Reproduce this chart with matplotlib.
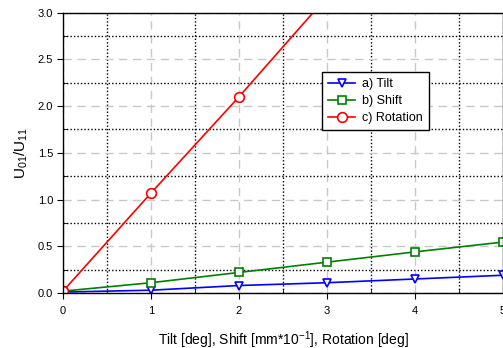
import matplotlib
matplotlib.use("Agg")
import matplotlib.pyplot as plt
from matplotlib.ticker import MultipleLocator, FormatStrFormatter

plt.rcParams['font.family'] = ['Liberation Sans', 'DejaVu Sans']
plt.rcParams['mathtext.default'] = 'regular'

x = [0, 1, 2, 3, 4, 5]
tilt = [0.01, 0.03, 0.08, 0.11, 0.15, 0.19]
shift = [0.02, 0.11, 0.22, 0.33, 0.44, 0.545]
rotation = [0.02, 1.07, 2.10, 3.17, 4.22, 5.27]
labels = ["a) Tilt", "b) Shift", "c) Rotation"]

fig = plt.figure(figsize=(5.03, 3.48), dpi=100)
ax = fig.add_axes([63/503, 55/348, 1 - 63/503, (293-12.7)/348])

ax.plot(x, tilt, color='blue', marker='v', ms=6, mfc='white', mec='blue', mew=1.2, lw=1.2, label=labels[0])
ax.plot(x, shift, color='green', marker='s', ms=5.5, mfc='white', mec='green', mew=1.2, lw=1.2, label=labels[1])
ax.plot(x, rotation, color='red', marker='o', ms=7, mfc='white', mec='red', mew=1.2, lw=1.2, label=labels[2])

ax.set_xlim(0, 5)
ax.set_ylim(0, 3.0)
ax.xaxis.set_major_locator(MultipleLocator(1))
ax.xaxis.set_minor_locator(MultipleLocator(0.5))
ax.yaxis.set_major_locator(MultipleLocator(0.5))
ax.yaxis.set_minor_locator(MultipleLocator(0.25))
ax.yaxis.set_major_formatter(FormatStrFormatter('%.1f'))

ax.grid(which='major', color='#c8c8c8', linestyle=(0, (6, 4)), linewidth=1.0)
ax.grid(which='minor', color='black', linestyle=(0, (1, 1.5)), linewidth=1.0)
ax.set_axisbelow(True)

ax.tick_params(which='major', direction='out', length=4, labelsize=8, colors='black')
ax.tick_params(axis='x', which='major', pad=5)
ax.tick_params(axis='y', which='major', pad=3)
ax.tick_params(which='minor', direction='in', length=3)
for s in ax.spines.values():
    s.set_linewidth(1.0)

ax.set_xlabel('Tilt [deg], Shift [mm*10$^{-1}$], Rotation [deg]', fontsize=10, labelpad=10)
ax.set_ylabel('$U_{01}/U_{11}$', fontsize=11, labelpad=6)

leg = ax.legend(loc='upper left', bbox_to_anchor=((321.7-63)/440, (293-71.7)/280.3),
                borderaxespad=0,
                fontsize=9, frameon=True, fancybox=False, edgecolor='black',
                handlelength=2.2, borderpad=0.5, labelspacing=0.4, handletextpad=0.5, framealpha=1)
leg.get_frame().set_linewidth(1.0)

fig.savefig('out.png', dpi=100)
